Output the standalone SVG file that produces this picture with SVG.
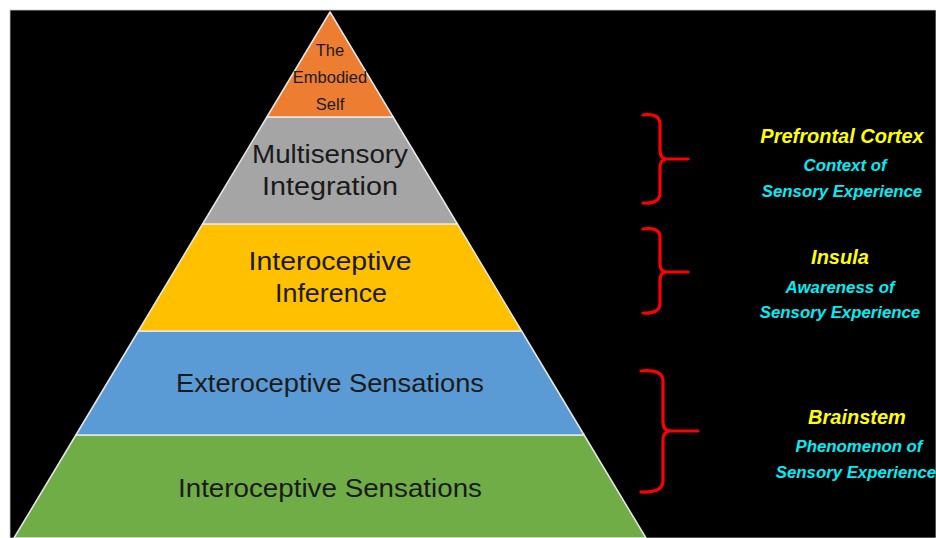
<svg xmlns="http://www.w3.org/2000/svg" width="936" height="538" viewBox="0 0 936 538">
<style>
.layer{stroke:#e8e8e8;stroke-width:1.5;stroke-linejoin:round}
.lt{font-family:"Liberation Sans",Arial,sans-serif;fill:#1a1a1a;text-anchor:middle}
.big{font-size:26px}
.small{font-size:16.5px}
.hd{font-family:"Liberation Sans",Arial,sans-serif;font-weight:bold;font-style:italic;fill:#FFFF00;text-anchor:middle;font-size:20px}
.sub{font-family:"Liberation Sans",Arial,sans-serif;font-weight:bold;font-style:italic;fill:#00EEF6;text-anchor:middle;font-size:16.8px}
.br{fill:none;stroke:#FF0000;stroke-width:3.2;stroke-linecap:round;stroke-linejoin:round}
</style>
<rect x="0" y="0" width="936" height="538" fill="#ffffff"/>
<rect x="10" y="10" width="926" height="528" fill="#000000" stroke="#c8c8c8" stroke-width="0.8"/>

<g id="interoceptive-sensations">
<polygon class="layer" points="75.9,435 584.1,435 646,538 14,538" fill="#70AD47"/>
<text class="lt big" x="330" y="497" textLength="304" lengthAdjust="spacingAndGlyphs">Interoceptive Sensations</text>
</g>
<g id="exteroceptive-sensations">
<polygon class="layer" points="138.4,331 521.6,331 584.1,435 75.9,435" fill="#5B9BD5"/>
<text class="lt big" x="330" y="392" textLength="308" lengthAdjust="spacingAndGlyphs">Exteroceptive Sensations</text>
</g>
<g id="interoceptive-inference">
<polygon class="layer" points="202.6,224 457.4,224 521.6,331 138.4,331" fill="#FFC000"/>
<text class="lt big" x="330" y="270" textLength="163" lengthAdjust="spacingAndGlyphs">Interoceptive</text>
<text class="lt big" x="331" y="302" textLength="112" lengthAdjust="spacingAndGlyphs">Inference</text>
</g>
<g id="multisensory-integration">
<polygon class="layer" points="266.9,117 393.1,117 457.4,224 202.6,224" fill="#A5A5A5"/>
<text class="lt big" x="330" y="163" textLength="156" lengthAdjust="spacingAndGlyphs">Multisensory</text>
<text class="lt big" x="330" y="195" textLength="136" lengthAdjust="spacingAndGlyphs">Integration</text>
</g>
<g id="embodied-self">
<polygon class="layer" points="330,12 393.1,117 266.9,117" fill="#ED7D31"/>
<text class="lt small" x="330" y="56">The</text>
<text class="lt small" x="330" y="83">Embodied</text>
<text class="lt small" x="330" y="110">Self</text>
</g>

<g id="connectors">
<path class="br" d="M643,115 Q660,113 660,124 V150 Q660,159 667,159 Q660,159 660,168 V193 Q660,204 643,203 M667,159 H688"/>
<path class="br" d="M643,229 Q660,227 660,237 V264 Q660,272 667,272 Q660,272 660,280 V303 Q660,314 643,313 M667,272 H688"/>
<path class="br" d="M641,371 Q663,369 663,381 V422 Q663,431 671,431 Q663,431 663,440 V481 Q663,493 641,492 M671,431 H698"/>
</g>

<g id="label-prefrontal">
<text class="hd" x="842" y="143">Prefrontal Cortex</text>
<text class="sub" x="845" y="171">Context of</text>
<text class="sub" x="842" y="197">Sensory Experience</text>
</g>
<g id="label-insula">
<text class="hd" x="840" y="264">Insula</text>
<text class="sub" x="840" y="293">Awareness of</text>
<text class="sub" x="840" y="318">Sensory Experience</text>
</g>
<g id="label-brainstem">
<text class="hd" x="857" y="424">Brainstem</text>
<text class="sub" x="859" y="452">Phenomenon of</text>
<text class="sub" x="856" y="478">Sensory Experience</text>
</g>
</svg>
